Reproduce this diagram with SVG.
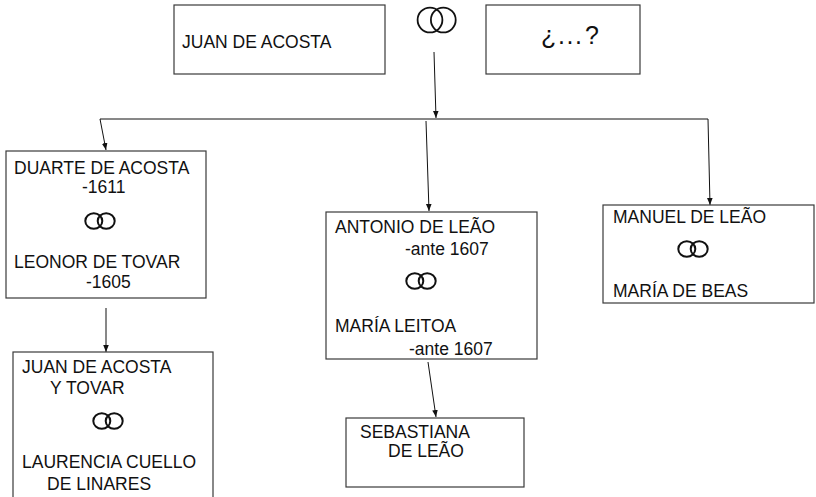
<svg xmlns="http://www.w3.org/2000/svg" xmlns:xlink="http://www.w3.org/1999/xlink" width="816" height="497" viewBox="0 0 816 497">
<style>
.box{fill:#fff;stroke:#3a3a3a;stroke-width:1.2}
.t{font-family:"Liberation Sans",Arial,sans-serif;font-size:17.5px;fill:#111}
.conn line{stroke:#111;stroke-width:1}
.ring ellipse,.ring circle{fill:none;stroke:#111}
</style>
<defs>
<marker id="ah" markerUnits="userSpaceOnUse" markerWidth="8" markerHeight="8" viewBox="0 0 8 8" refX="7" refY="4" orient="auto">
<path d="M0,1.2 L7,4 L0,6.8 Z" fill="#111"/>
</marker>
<g id="rs" class="ring">
<ellipse cx="-6.2" cy="0" rx="8.5" ry="7.8" stroke-width="2"/>
<ellipse cx="6.2" cy="0" rx="8.5" ry="7.8" stroke-width="2"/>
</g>
</defs>
<rect width="816" height="497" fill="#fff"/>
<g id="conns" class="conn">
<line x1="434" y1="52" x2="436" y2="118" marker-end="url(#ah)"/>
<line x1="100" y1="119" x2="708" y2="119"/>
<line x1="100" y1="119" x2="106" y2="150" marker-end="url(#ah)"/>
<line x1="426" y1="121" x2="429" y2="211" marker-end="url(#ah)"/>
<line x1="708" y1="119" x2="710" y2="205" marker-end="url(#ah)"/>
<line x1="106" y1="308" x2="106" y2="352" marker-end="url(#ah)"/>
<line x1="428" y1="362" x2="436" y2="417" marker-end="url(#ah)"/>
</g>
<g id="juan-de-acosta">
<rect class="box" x="174" y="5" width="211" height="69"/>
<text class="t" x="182" y="48">JUAN DE ACOSTA</text>
</g>
<g id="rings-top" class="ring">
<circle cx="430" cy="20" r="12.4" stroke-width="1.8"/>
<circle cx="443.3" cy="20" r="12.4" stroke-width="1.8"/>
</g>
<g id="desconocida">
<rect class="box" x="486" y="5" width="154" height="69"/>
<text class="t" x="541 558 566.5 575 585" y="44" style="font-size:25px">¿...?</text>
</g>
<g id="duarte">
<rect class="box" x="6" y="151" width="200" height="147"/>
<text class="t" x="14" y="174">DUARTE DE ACOSTA</text>
<text class="t" x="82" y="193">-1611</text>
<use xlink:href="#rs" href="#rs" x="100" y="221"/>
<text class="t" x="14" y="268">LEONOR DE TOVAR</text>
<text class="t" x="86" y="288">-1605</text>
</g>
<g id="juan-y-tovar">
<rect class="box" x="13" y="352" width="200" height="160"/>
<text class="t" x="22" y="373">JUAN DE ACOSTA</text>
<text class="t" x="50" y="394">Y TOVAR</text>
<use xlink:href="#rs" href="#rs" x="108" y="421"/>
<text class="t" x="22" y="468">LAURENCIA CUELLO</text>
<text class="t" x="47" y="490">DE LINARES</text>
</g>
<g id="antonio">
<rect class="box" x="326" y="212" width="211" height="147"/>
<text class="t" x="335" y="233">ANTONIO DE LEÃO</text>
<text class="t" x="405" y="255">-ante 1607</text>
<use xlink:href="#rs" href="#rs" x="421" y="281"/>
<text class="t" x="335" y="332">MARÍA LEITOA</text>
<text class="t" x="409" y="355">-ante 1607</text>
</g>
<g id="sebastiana">
<rect class="box" x="346" y="418" width="178" height="69"/>
<text class="t" x="360" y="438">SEBASTIANA</text>
<text class="t" x="388" y="457">DE LEÃO</text>
</g>
<g id="manuel">
<rect class="box" x="603" y="205" width="211" height="98"/>
<text class="t" x="613" y="223">MANUEL DE LEÃO</text>
<use xlink:href="#rs" href="#rs" x="693" y="249"/>
<text class="t" x="613" y="297">MARÍA DE BEAS</text>
</g>
</svg>
